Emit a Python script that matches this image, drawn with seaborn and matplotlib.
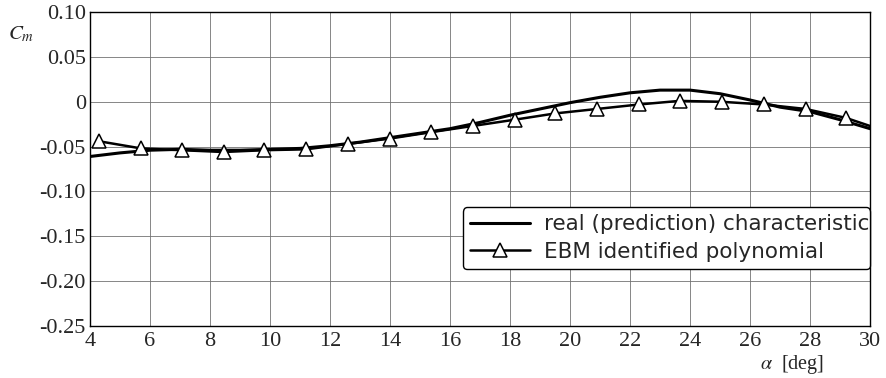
import pandas as pd
import matplotlib.pyplot as plt
import seaborn as sns

# --- DATA ---
alpha_real = [4, 5, 6, 7, 8, 9, 10, 11, 12, 13, 14, 15, 16, 17, 18, 19, 20,
              21, 22, 23, 24, 25, 26, 27, 28, 29, 30]
cm_real = [-0.061, -0.057, -0.054, -0.053, -0.054, -0.054, -0.053, -0.052,
           -0.049, -0.045, -0.040, -0.035, -0.030, -0.023, -0.015, -0.008,
           -0.001, 0.005, 0.010, 0.013, 0.013, 0.009, 0.002, -0.006, -0.011,
           -0.020, -0.030]

alpha_ebm = [4.3, 5.7, 7.05, 8.45, 9.8, 11.2, 12.6, 14.0, 15.35, 16.75, 18.15,
             19.5, 20.9, 22.3, 23.65, 25.05, 26.45, 27.85, 29.2, 30.0]
cm_ebm = [-0.044, -0.052, -0.054, -0.056, -0.054, -0.053, -0.047, -0.041,
          -0.034, -0.027, -0.020, -0.013, -0.008, -0.003, 0.001, 0.000,
          -0.003, -0.008, -0.018, -0.027]

x_ticks = [4, 6, 8, 10, 12, 14, 16, 18, 20, 22, 24, 26, 28, 30]
y_ticks = [0.10, 0.05, 0.0, -0.05, -0.10, -0.15, -0.20, -0.25]
y_ticklabels = ['0.10', '0.05', '0', '-0.05', '-0.10', '-0.15', '-0.20', '-0.25']

labels = ['real (prediction) characteristic', 'EBM identified polynomial']

df_real = pd.DataFrame({'alpha': alpha_real, 'cm': cm_real})
df_ebm = pd.DataFrame({'alpha': alpha_ebm, 'cm': cm_ebm})

# --- PLOT ---
sns.set_style("white")
plt.rcParams['font.family'] = ['Liberation Serif', 'DejaVu Serif']
plt.rcParams['mathtext.fontset'] = 'stix'

fig = plt.figure(figsize=(8.86, 3.78), dpi=100)
ax = fig.add_axes([0.1016, 0.1376, 0.8804, 0.8304])

sns.lineplot(data=df_real, x='alpha', y='cm', ax=ax, color='black',
             linewidth=2.2, label=labels[0])
sns.lineplot(data=df_ebm, x='alpha', y='cm', ax=ax, color='black',
             linewidth=1.8, marker='^', markersize=9.5, markerfacecolor='white',
             markeredgecolor='black', markeredgewidth=1.1,
             markevery=list(range(len(alpha_ebm) - 1)), label=labels[1])

ax.set_xlim(4, 30)
ax.set_ylim(-0.25, 0.10)
ax.set_xticks(x_ticks)
ax.set_yticks(y_ticks)
ax.set_yticklabels(y_ticklabels)
ax.tick_params(axis='y', length=0, labelsize=16, pad=3)
ax.tick_params(axis='x', length=0, labelsize=16, pad=4)
ax.grid(True, color='0.45', linewidth=0.6)
for s in ax.spines.values():
    s.set_color('black')
    s.set_linewidth(1.0)

ax.set_xlabel('')
ax.set_ylabel('')
fig.text(0.009, 0.91, '$C_m$', fontsize=15, ha='left', va='center')
fig.text(0.858, 0.035, r'$\alpha$  [deg]', fontsize=14.5, ha='left', va='center')

leg = ax.legend(loc='lower left', bbox_to_anchor=(0.478, 0.182, 0.522, 0.2),
                mode='expand', frameon=True, fancybox=True, edgecolor='black',
                framealpha=1, handlelength=2.8, borderpad=0.32,
                labelspacing=0.36, handletextpad=0.65, borderaxespad=0,
                prop={'family': 'DejaVu Sans', 'size': 15.5})
leg.get_frame().set_linewidth(1.0)

fig.savefig('out.png', dpi=100)
plt.close()
